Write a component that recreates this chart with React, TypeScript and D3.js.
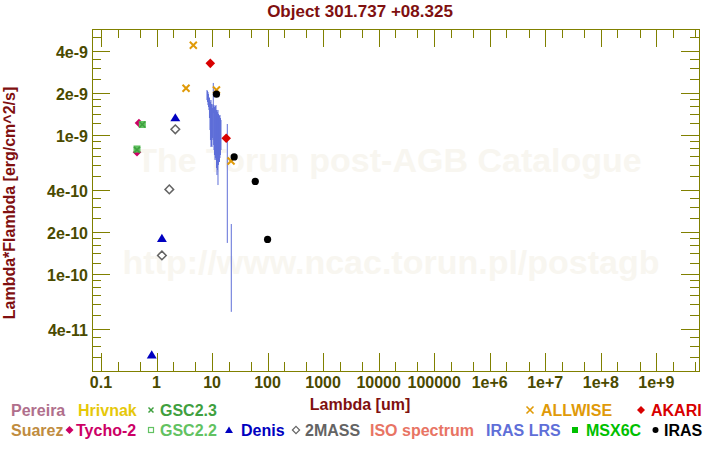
import React from 'react';
import * as d3 from 'd3';

// ---------- axis definitions ----------
const xTickValues = [0.1, 1, 10, 100, 1000, 1e4, 1e5, 1e6, 1e7, 1e8, 1e9];
const xTickLabels = ['0.1', '1', '10', '100', '1000', '10000', '100000', '1e+6', '1e+7', '1e+8', '1e+9'];
const xMinorMantissas = [2, 5];
const yTickValues = [4e-9, 2e-9, 1e-9, 4e-10, 2e-10, 1e-10, 4e-11];
const yTickLabels = ['4e-9', '2e-9', '1e-9', '4e-10', '2e-10', '1e-10', '4e-11'];
const yMinorMantissas = [1.2, 1.4, 1.6, 1.8, 2.5, 3, 3.5, 5, 6, 7, 8, 9];
const xDomain = [0.0689, 5.87e9];
const yDomain = [1.99e-11, 5.74e-9];

// ---------- photometry (wavelength um, lambda*F_lambda erg/cm^2/s) ----------
const allwiseWave = [3.4, 4.6, 12, 22];
const allwiseFlux = [2.15e-9, 4.38e-9, 2.09e-9, 6.45e-10];
const akariWave = [9.3, 18];
const akariFlux = [3.25e-9, 9.4e-10];
const irasWave = [12, 25, 60, 100];
const irasFlux = [1.95e-9, 6.9e-10, 4.6e-10, 1.76e-10];
const denisWave = [0.82, 1.25, 2.18];
const denisFlux = [2.6e-11, 1.79e-10, 1.32e-9];
const twomassWave = [1.25, 1.7, 2.18];
const twomassFlux = [1.35e-10, 4.03e-10, 1.09e-9];
const tychoWave = [0.483, 0.445];
const tychoFlux = [1.21e-9, 7.45e-10];
const gsc22Wave = [0.555, 0.445];
const gsc22Flux = [1.18e-9, 7.87e-10];
const gsc23Wave = [0.555, 0.445];
const gsc23Flux = [1.18e-9, 7.75e-10];

// ---------- IRAS LRS spectrum (flux and error in 1e-9 erg/cm^2/s) ----------
const lrsWave = [8.11, 8.28, 8.45, 8.63, 8.81, 8.99, 9.18, 9.37, 9.57, 9.77, 9.97, 10.18, 10.39, 10.53, 10.7, 10.84,
  11.06, 11.3, 11.53, 11.78, 12.02, 12.27, 12.53, 12.79, 13.06, 13.34, 13.61, 13.9, 14.19, 14.49, 18.82, 22.21];
const lrsFlux = [1.93, 1.884, 1.826, 1.767, 1.68, 1.572, 1.424, 1.313, 1.292, 1.242, 1.222, 1.248, 1.285, 1.888, 1.222, 1.202,
  1.145, 1.104, 1.14, 1.143, 1.037, 1.006, 1.004, 0.967, 1.005, 1.019, 0.997, 1.03, 1.013, 1.023, 0.678, 0.14];
const lrsErr = [0.16, 0.171, 0.196, 0.19, 0.18, 0.258, 0.347, 0.4, 0.479, 0.415, 0.409, 0.304, 0.372, 0.46, 0.382, 0.428,
  0.433, 0.448, 0.463, 0.487, 0.463, 0.495, 0.449, 0.534, 0.401, 0.363, 0.363, 0.352, 0.301, 0.249, 0.512, 0.087];

// ---------- legend ----------
const legendRow1 = ['Pereira', 'Hrivnak', 'GSC2.3', 'ALLWISE', 'AKARI'];
const legendRow2 = ['Suarez', 'Tycho-2', 'GSC2.2', 'Denis', '2MASS', 'ISO spectrum', 'IRAS LRS', 'MSX6C', 'IRAS'];

const C = {
  pereira: '#b06f8c', hrivnak: '#e6c80a', gsc23: '#3fa03f', allwise: '#e09a08', akari: '#d80000',
  suarez: '#c08c40', tycho: '#cc0066', gsc22: '#62c262', denis: '#0000c0', twomass: '#646464',
  iso: '#e87464', lrs: '#5f6fd8', msx: '#00c000', iras: '#000000',
  axis: '#808000', tick: '#4a4a00', title: '#801010', wm: '#f8f6f0',
};

const FONT = '"Liberation Sans", Arial, Helvetica, sans-serif';

function Cross({ cx, cy, s, color, w = 2 }: any) {
  return (
    <g stroke={color} strokeWidth={w}>
      <line x1={cx - s} y1={cy - s} x2={cx + s} y2={cy + s} />
      <line x1={cx - s} y1={cy + s} x2={cx + s} y2={cy - s} />
    </g>
  );
}
function Diamond({ cx, cy, s, fill, stroke, w = 1.5 }: any) {
  return <path d={`M${cx},${cy - s}L${cx + s},${cy}L${cx},${cy + s}L${cx - s},${cy}Z`} fill={fill || 'none'} stroke={stroke || 'none'} strokeWidth={w} />;
}
function Tri({ cx, cy, s, fill }: any) {
  return <path d={`M${cx},${cy - s}L${cx + s * 1.1},${cy + s * 0.8}L${cx - s * 1.1},${cy + s * 0.8}Z`} fill={fill} />;
}

export default function App() {
  const L = 92, R = 699, T = 29, B = 371;
  const x = d3.scaleLog().domain(xDomain).range([L, R]);
  const y = d3.scaleLog().domain(yDomain).range([B, T]);

  const xMinor: number[] = [];
  for (let d = -2; d <= 9; d++) xMinorMantissas.forEach(m => { const v = m * Math.pow(10, d); if (v > xDomain[0] && v < xDomain[1]) xMinor.push(v); });
  const yMinor: number[] = [];
  for (let d = -12; d <= -9; d++) yMinorMantissas.forEach(m => { const v = m * Math.pow(10, d); if (v > yDomain[0] && v < yDomain[1]) yMinor.push(v); });

  const px = (v: number) => Math.round(x(v)) + 0.5;
  const py = (v: number) => Math.round(y(v)) + 0.5;

  const legendText = (label: string, color: string, tx: number, ty: number) => (
    <text key={label} x={tx} y={ty} fill={color} fontSize={16} fontWeight="bold" fontFamily={FONT}>{label}</text>
  );
  const r1 = 415.5, r2 = 435.5;

  return (
    <svg width={720} height={450} style={{ position: 'absolute', left: 0, top: 0, background: '#fff' }}>
      <rect x={0} y={0} width={720} height={450} fill="#fff" />
      {/* watermark */}
      <text x={389} y={172} textAnchor="middle" fontSize={34} fontWeight="bold" fontFamily={FONT} fill={C.wm}>The Torun post-AGB Catalogue</text>
      <text x={391} y={274} textAnchor="middle" fontSize={34} fontWeight="bold" fontFamily={FONT} fill={C.wm}>http://www.ncac.torun.pl/postagb</text>

      {/* title */}
      <text x={360} y={17} textAnchor="middle" fontSize={17} fontWeight="bold" fontFamily={FONT} fill={C.title}>Object 301.737 +08.325</text>

      {/* frame & ticks */}
      <g stroke={C.axis} strokeWidth={1} shapeRendering="crispEdges">
        <rect x={L + 0.5} y={T + 0.5} width={R - L} height={B - T} fill="none" />
        {xTickValues.map(v => (
          <g key={'xM' + v}>
            <line x1={px(v)} x2={px(v)} y1={B} y2={B - 18} />
            <line x1={px(v)} x2={px(v)} y1={T} y2={T + 18} />
          </g>
        ))}
        {xMinor.map(v => (
          <g key={'xm' + v}>
            <line x1={px(v)} x2={px(v)} y1={B} y2={B - 9} />
            <line x1={px(v)} x2={px(v)} y1={T} y2={T + 9} />
          </g>
        ))}
        {yTickValues.map(v => (
          <g key={'yM' + v}>
            <line x1={L} x2={L + 18} y1={py(v)} y2={py(v)} />
            <line x1={R} x2={R - 18} y1={py(v)} y2={py(v)} />
          </g>
        ))}
        {yMinor.map(v => (
          <g key={'ym' + v}>
            <line x1={L} x2={L + 9} y1={py(v)} y2={py(v)} />
            <line x1={R} x2={R - 9} y1={py(v)} y2={py(v)} />
          </g>
        ))}
      </g>

      {/* tick labels */}
      <g fontSize={16} fontWeight="bold" fontFamily={FONT} fill={C.tick}>
        {xTickValues.map((v, i) => (
          <text key={'xl' + v} x={x(v)} y={388} textAnchor="middle">{xTickLabels[i]}</text>
        ))}
        {yTickValues.map((v, i) => (
          <text key={'yl' + v} x={88} y={y(v) + 7} textAnchor="end">{yTickLabels[i]}</text>
        ))}
      </g>

      {/* axis titles */}
      <text x={360} y={410} textAnchor="middle" fontSize={16} fontWeight="bold" fontFamily={FONT} fill={C.title}>Lambda [um]</text>
      <text transform="translate(15,203) rotate(-90)" textAnchor="middle" fontSize={16} fontWeight="bold" fontFamily={FONT} fill={C.title}>Lambda*Flambda [erg/cm^2/s]</text>

      {/* IRAS LRS spectrum */}
      <g stroke={C.lrs} strokeWidth={1}>
        {lrsWave.map((w, i) => (
          <line key={'lrs' + i} x1={x(w)} x2={x(w)} y1={y((lrsFlux[i] + lrsErr[i]) * 1e-9)} y2={y((lrsFlux[i] - lrsErr[i]) * 1e-9)} />
        ))}
      </g>

      {/* ALLWISE */}
      {allwiseWave.map((w, i) => <Cross key={'aw' + i} cx={x(w)} cy={y(allwiseFlux[i])} s={3.5} color={C.allwise} />)}
      {/* IRAS */}
      {irasWave.map((w, i) => <circle key={'ir' + i} cx={x(w)} cy={y(irasFlux[i])} r={3.6} fill={C.iras} />)}
      {/* AKARI */}
      {akariWave.map((w, i) => <Diamond key={'ak' + i} cx={x(w)} cy={y(akariFlux[i])} s={4.8} fill={C.akari} />)}
      {/* 2MASS */}
      {twomassWave.map((w, i) => <Diamond key={'tm' + i} cx={x(w)} cy={y(twomassFlux[i])} s={4.3} stroke={C.twomass} fill="#fff" w={1.5} />)}
      {/* Denis */}
      {denisWave.map((w, i) => <Tri key={'de' + i} cx={x(w)} cy={y(denisFlux[i])} s={4.5} fill={C.denis} />)}
      {/* Tycho-2 */}
      {tychoWave.map((w, i) => <Diamond key={'ty' + i} cx={x(w)} cy={y(tychoFlux[i])} s={4.3} fill={C.tycho} />)}
      {/* GSC2.2 */}
      {gsc22Wave.map((w, i) => <rect key={'g2' + i} x={x(w) - 3.5} y={y(gsc22Flux[i]) - 3.5} width={7} height={7} fill={C.gsc22} />)}
      {/* GSC2.3 */}
      {gsc23Wave.map((w, i) => <Cross key={'g3' + i} cx={x(w)} cy={y(gsc23Flux[i])} s={3} color={C.gsc23} w={1.5} />)}

      {/* legend row 1 */}
      {legendText(legendRow1[0], C.pereira, 11, r1)}
      {legendText(legendRow1[1], C.hrivnak, 78, r1)}
      <Cross cx={151} cy={410} s={2.5} color={C.gsc23} w={1.5} />
      {legendText(legendRow1[2], C.gsc23, 160, r1)}
      <Cross cx={530} cy={410} s={3.5} color={C.allwise} w={1.6} />
      {legendText(legendRow1[3], C.allwise, 541, r1)}
      <Diamond cx={641} cy={410} s={4} fill={C.akari} />
      {legendText(legendRow1[4], C.akari, 651, r1)}

      {/* legend row 2 */}
      {legendText(legendRow2[0], C.suarez, 11, r2)}
      <Diamond cx={69.5} cy={430} s={4} fill={C.tycho} />
      {legendText(legendRow2[1], C.tycho, 76, r2)}
      <rect x={148.5} y={427.5} width={5} height={5} fill="none" stroke={C.gsc22} strokeWidth={1.2} />
      {legendText(legendRow2[2], C.gsc22, 160, r2)}
      <Tri cx={229} cy={430} s={3.6} fill={C.denis} />
      {legendText(legendRow2[3], C.denis, 241, r2)}
      <Diamond cx={296} cy={430} s={3.6} stroke={C.twomass} fill="none" w={1.2} />
      {legendText(legendRow2[4], C.twomass, 305, r2)}
      {legendText(legendRow2[5], C.iso, 370, r2)}
      {legendText(legendRow2[6], C.lrs, 486, r2)}
      <rect x={572} y={427} width={6} height={6} fill={C.msx} />
      {legendText(legendRow2[7], C.msx, 586, r2)}
      <circle cx={655.5} cy={430} r={3} fill={C.iras} />
      {legendText(legendRow2[8], C.iras, 664, r2)}
    </svg>
  );
}
